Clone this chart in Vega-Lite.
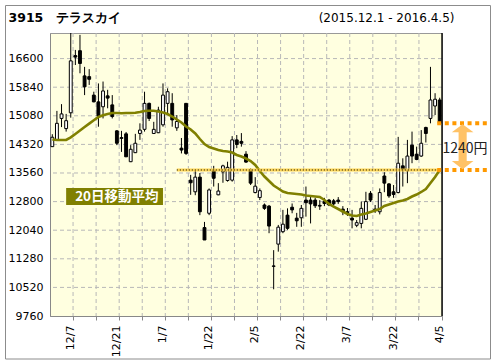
{
  "$schema": "https://vega.github.io/schema/vega-lite/v6.json",
  "width": 392,
  "height": 283,
  "autosize": "none",
  "padding": {"left": 50, "top": 33, "right": 54, "bottom": 48},
  "background": "white",
  "config": {
    "view": {"fill": "#FFFFE0", "stroke": "#999999", "strokeWidth": 1},
    "font": "DejaVu Sans"
  },
  "datasets": {
    "ohlc": [
      {"d": "12/1", "o": 14260, "h": 14590, "l": 14250, "c": 14510, "ma": 14450},
      {"d": "12/2", "o": 14440, "h": 15210, "l": 14420, "c": 14880, "ma": 14436},
      {"d": "12/3", "o": 15010, "h": 15390, "l": 14780, "c": 15130, "ma": 14436},
      {"d": "12/4", "o": 14740, "h": 15130, "l": 14660, "c": 14950, "ma": 14440},
      {"d": "12/7", "o": 15160, "h": 17280, "l": 15030, "c": 16540, "ma": 14508},
      {"d": "12/8", "o": 16680, "h": 16830, "l": 16430, "c": 16640, "ma": 14598},
      {"d": "12/9", "o": 16810, "h": 17230, "l": 16210, "c": 16470, "ma": 14689},
      {"d": "12/10", "o": 16140, "h": 16380, "l": 15630, "c": 15850, "ma": 14782},
      {"d": "12/11", "o": 16120, "h": 16320, "l": 15900, "c": 16050, "ma": 14872},
      {"d": "12/14", "o": 15630, "h": 15720, "l": 15440, "c": 15450, "ma": 14962},
      {"d": "12/15", "o": 15450, "h": 15940, "l": 14790, "c": 15070, "ma": 15047},
      {"d": "12/16", "o": 15320, "h": 15990, "l": 15010, "c": 15740, "ma": 15093},
      {"d": "12/17", "o": 15610, "h": 15770, "l": 15280, "c": 15550, "ma": 15127},
      {"d": "12/18", "o": 15370, "h": 15630, "l": 15010, "c": 15060, "ma": 15154},
      {"d": "12/21", "o": 14680, "h": 14700, "l": 14300, "c": 14350, "ma": 15154},
      {"d": "12/22", "o": 14500, "h": 14680, "l": 14120, "c": 14480, "ma": 15148},
      {"d": "12/24", "o": 14600, "h": 14650, "l": 13990, "c": 13990, "ma": 15154},
      {"d": "12/25", "o": 13860, "h": 14300, "l": 13850, "c": 14190, "ma": 15154},
      {"d": "12/28", "o": 14100, "h": 14600, "l": 14090, "c": 14350, "ma": 15159},
      {"d": "12/29", "o": 14610, "h": 14880, "l": 14440, "c": 14700, "ma": 15180},
      {"d": "12/30", "o": 14720, "h": 15720, "l": 14660, "c": 15410, "ma": 15207},
      {"d": "1/4", "o": 15410, "h": 15430, "l": 14940, "c": 15010, "ma": 15215},
      {"d": "1/5", "o": 14610, "h": 14920, "l": 14600, "c": 14720, "ma": 15215},
      {"d": "1/6", "o": 14630, "h": 15320, "l": 14620, "c": 15230, "ma": 15194},
      {"d": "1/7", "o": 14840, "h": 15940, "l": 14790, "c": 15630, "ma": 15167},
      {"d": "1/8", "o": 15410, "h": 15810, "l": 15100, "c": 15720, "ma": 15127},
      {"d": "1/12", "o": 15410, "h": 15680, "l": 14790, "c": 14970, "ma": 15061},
      {"d": "1/13", "o": 14760, "h": 15100, "l": 14680, "c": 14930, "ma": 14981},
      {"d": "1/14", "o": 14220, "h": 14490, "l": 14080, "c": 14170, "ma": 14901},
      {"d": "1/15", "o": 15410, "h": 15420, "l": 14040, "c": 14080, "ma": 14795},
      {"d": "1/18", "o": 13370, "h": 13510, "l": 12980, "c": 13300, "ma": 14715},
      {"d": "1/19", "o": 13060, "h": 13640, "l": 12970, "c": 13450, "ma": 14609},
      {"d": "1/20", "o": 13450, "h": 13560, "l": 12440, "c": 12530, "ma": 14463},
      {"d": "1/21", "o": 12110, "h": 12260, "l": 11780, "c": 11780, "ma": 14330},
      {"d": "1/22", "o": 12490, "h": 13150, "l": 12440, "c": 13110, "ma": 14250},
      {"d": "1/25", "o": 13640, "h": 13750, "l": 13200, "c": 13420, "ma": 14210},
      {"d": "1/26", "o": 12980, "h": 13290, "l": 12970, "c": 13080, "ma": 14171},
      {"d": "1/27", "o": 13590, "h": 13780, "l": 13300, "c": 13750, "ma": 14144},
      {"d": "1/28", "o": 13360, "h": 13860, "l": 13330, "c": 13710, "ma": 14131},
      {"d": "1/29", "o": 13370, "h": 14540, "l": 13330, "c": 14440, "ma": 14104},
      {"d": "2/1", "o": 14440, "h": 14570, "l": 14220, "c": 14320, "ma": 14038},
      {"d": "2/2", "o": 14400, "h": 14620, "l": 14260, "c": 14350, "ma": 13998},
      {"d": "2/3", "o": 14060, "h": 14140, "l": 13830, "c": 13850, "ma": 13945},
      {"d": "2/4", "o": 13640, "h": 13680, "l": 13240, "c": 13290, "ma": 13878},
      {"d": "2/5", "o": 13040, "h": 13450, "l": 13020, "c": 13210, "ma": 13772},
      {"d": "2/8", "o": 12910, "h": 13150, "l": 12840, "c": 13090, "ma": 13613},
      {"d": "2/9", "o": 12710, "h": 12750, "l": 12580, "c": 12620, "ma": 13467},
      {"d": "2/10", "o": 12680, "h": 12710, "l": 11960, "c": 12150, "ma": 13347},
      {"d": "2/12", "o": 11090, "h": 11510, "l": 10470, "c": 11080, "ma": 13227},
      {"d": "2/15", "o": 11670, "h": 12180, "l": 11470, "c": 12120, "ma": 13148},
      {"d": "2/16", "o": 12000, "h": 12580, "l": 11960, "c": 12200, "ma": 13068},
      {"d": "2/17", "o": 12440, "h": 12620, "l": 12050, "c": 12090, "ma": 13028},
      {"d": "2/18", "o": 12650, "h": 12750, "l": 12490, "c": 12580, "ma": 13015},
      {"d": "2/19", "o": 12360, "h": 12500, "l": 12130, "c": 12290, "ma": 13002},
      {"d": "2/22", "o": 12370, "h": 12710, "l": 12130, "c": 12620, "ma": 12988},
      {"d": "2/23", "o": 12840, "h": 13200, "l": 12400, "c": 12770, "ma": 12962},
      {"d": "2/24", "o": 12840, "h": 12930, "l": 12220, "c": 12740, "ma": 12948},
      {"d": "2/25", "o": 12840, "h": 12900, "l": 12630, "c": 12690, "ma": 12935},
      {"d": "2/26", "o": 12700, "h": 12840, "l": 12580, "c": 12680, "ma": 12922},
      {"d": "2/29", "o": 12800, "h": 12900, "l": 12680, "c": 12750, "ma": 12842},
      {"d": "3/1", "o": 12840, "h": 12870, "l": 12680, "c": 12710, "ma": 12736},
      {"d": "3/2", "o": 12820, "h": 12870, "l": 12700, "c": 12740, "ma": 12669},
      {"d": "3/3", "o": 12840, "h": 12920, "l": 12740, "c": 12800, "ma": 12603},
      {"d": "3/4", "o": 12600, "h": 12680, "l": 12440, "c": 12530, "ma": 12537},
      {"d": "3/7", "o": 12530, "h": 12630, "l": 12420, "c": 12510, "ma": 12470},
      {"d": "3/8", "o": 12360, "h": 12580, "l": 12090, "c": 12310, "ma": 12430},
      {"d": "3/9", "o": 12170, "h": 12310, "l": 12120, "c": 12240, "ma": 12417},
      {"d": "3/10", "o": 12220, "h": 12800, "l": 12090, "c": 12620, "ma": 12457},
      {"d": "3/11", "o": 12330, "h": 13060, "l": 12310, "c": 12800, "ma": 12483},
      {"d": "3/14", "o": 13020, "h": 13080, "l": 12790, "c": 12840, "ma": 12523},
      {"d": "3/15", "o": 12600, "h": 12710, "l": 12500, "c": 12580, "ma": 12563},
      {"d": "3/16", "o": 12530, "h": 13150, "l": 12460, "c": 13040, "ma": 12603},
      {"d": "3/17", "o": 13480, "h": 13580, "l": 13050, "c": 13290, "ma": 12683},
      {"d": "3/18", "o": 13270, "h": 13290, "l": 12900, "c": 12950, "ma": 12723},
      {"d": "3/22", "o": 13060, "h": 13240, "l": 12900, "c": 12990, "ma": 12762},
      {"d": "3/23", "o": 13040, "h": 14520, "l": 13020, "c": 13820, "ma": 12802},
      {"d": "3/24", "o": 13750, "h": 13950, "l": 13200, "c": 13640, "ma": 12829},
      {"d": "3/25", "o": 13620, "h": 14440, "l": 13290, "c": 14010, "ma": 12869},
      {"d": "3/28", "o": 14300, "h": 14660, "l": 13820, "c": 14010, "ma": 12935},
      {"d": "3/29", "o": 14060, "h": 14260, "l": 13900, "c": 13920, "ma": 12988},
      {"d": "3/30", "o": 14010, "h": 14700, "l": 13990, "c": 14350, "ma": 13055},
      {"d": "3/31", "o": 14770, "h": 14790, "l": 14370, "c": 14610, "ma": 13134},
      {"d": "4/1", "o": 15010, "h": 16380, "l": 14880, "c": 15500, "ma": 13294},
      {"d": "4/4", "o": 15340, "h": 15680, "l": 15100, "c": 15520, "ma": 13453},
      {"d": "4/5", "o": 15500, "h": 15560, "l": 14860, "c": 14880, "ma": 13640}
    ],
    "gap": [{"close": 14880, "ma": 13640, "label": "1240円"}],
    "gridY": [{"gy": 10520}, {"gy": 11280}, {"gy": 12040}, {"gy": 12800}, {"gy": 13560}, {"gy": 14320}, {"gy": 15080}, {"gy": 15840}, {"gy": 16600}],
    "gridX": [{"gx": "12/7"}, {"gx": "12/14"}, {"gx": "12/21"}, {"gx": "12/29"}, {"gx": "1/7"}, {"gx": "1/15"}, {"gx": "1/22"}, {"gx": "1/29"}, {"gx": "2/5"}, {"gx": "2/15"}, {"gx": "2/22"}, {"gx": "2/29"}, {"gx": "3/7"}, {"gx": "3/14"}, {"gx": "3/22"}, {"gx": "3/29"}]
  },
  "layer": [
    {
      "data": {"name": "ohlc"},
      "encoding": {
        "x": {
          "field": "d",
          "type": "ordinal",
          "scale": {
            "type": "band",
            "paddingInner": 0,
            "paddingOuter": 0,
            "domain": ["12/1","12/2","12/3","12/4","12/7","12/8","12/9","12/10","12/11","12/14","12/15","12/16","12/17","12/18","12/21","12/22","12/24","12/25","12/28","12/29","12/30","1/4","1/5","1/6","1/7","1/8","1/12","1/13","1/14","1/15","1/18","1/19","1/20","1/21","1/22","1/25","1/26","1/27","1/28","1/29","2/1","2/2","2/3","2/4","2/5","2/8","2/9","2/10","2/12","2/15","2/16","2/17","2/18","2/19","2/22","2/23","2/24","2/25","2/26","2/29","3/1","3/2","3/3","3/4","3/7","3/8","3/9","3/10","3/11","3/14","3/15","3/16","3/17","3/18","3/22","3/23","3/24","3/25","3/28","3/29","3/30","3/31","4/1","4/4","4/5"]
          },
          "axis": {
            "orient": "bottom",
            "title": null,
            "values": ["12/7","12/14","12/21","12/29","1/7","1/15","1/22","1/29","2/5","2/15","2/22","2/29","3/7","3/14","3/22","3/29","4/5"],
            "bandPosition": 1,
            "labelExpr": "indexof(['12/7','12/21','1/7','1/22','2/5','2/22','3/7','3/22','4/5'], datum.value) >= 0 ? datum.value : ''",
            "labelAngle": 270,
            "labelAlign": "right",
            "labelBaseline": "middle",
            "labelFont": "DejaVu Sans",
            "labelFontSize": 11,
            "labelColor": "#000000",
            "labelPadding": 5,
            "labelOverlap": false,
            "tickSize": 4,
            "tickColor": "#888888",
            "domainColor": "#888888",
            "grid": false
          }
        },
        "y": {
          "field": "l",
          "type": "quantitative",
          "scale": {"domain": [9760, 17280], "nice": false, "zero": false},
          "axis": {
            "values": [9760, 10520, 11280, 12040, 12800, 13560, 14320, 15080, 15840, 16600],
            "format": "d",
            "ticks": false,
            "labelPadding": 7,
            "labelFont": "DejaVu Sans",
            "labelFontSize": 11,
            "labelColor": "#000000",
            "domainColor": "#888888",
            "grid": false,
            "title": "3915　テラスカイ",
            "titleAngle": 0,
            "titleAlign": "left",
            "titleBaseline": "alphabetic",
            "titleX": -42,
            "titleY": -12,
            "titleFont": "DejaVu Sans",
            "titleFontSize": 12.5,
            "titleFontWeight": "bold",
            "titleColor": "#000000"
          }
        }
      },
      "layer": [
        {
          "data": {"name": "gridY"},
          "mark": {"type": "rule", "color": "#b8b8b8", "strokeWidth": 1, "strokeDash": [4, 3]},
          "encoding": {
            "x": null,
            "y": {"field": "gy", "type": "quantitative", "title": "3915　テラスカイ"}
          }
        },
        {
          "data": {"name": "gridX"},
          "mark": {"type": "rule", "color": "#b8b8b8", "strokeWidth": 1, "strokeDash": [4, 3]},
          "encoding": {
            "x": {"field": "gx", "type": "ordinal", "bandPosition": 1},
            "y": null
          }
        },
        {
          "mark": {"type": "rule", "color": "#000000", "strokeWidth": 1},
          "encoding": {"y2": {"field": "h"}}
        },
        {
          "mark": {"type": "bar", "width": {"band": 0.62}, "stroke": "#000000", "strokeWidth": 1},
          "encoding": {
            "y": {"field": "o", "type": "quantitative", "title": "3915　テラスカイ"},
            "y2": {"field": "c"},
            "fill": {"condition": {"test": "datum.c >= datum.o", "value": "#ffffff"}, "value": "#000000"}
          }
        },
        {
          "mark": {"type": "line", "color": "#808000", "strokeWidth": 2.6},
          "encoding": {"y": {"field": "ma", "type": "quantitative", "title": "3915　テラスカイ"}}
        },
        {
          "data": {"values": [{"v": 13640}]},
          "mark": {"type": "rule", "color": "#FFD040", "strokeWidth": 3, "opacity": 0.85},
          "encoding": {
            "x": {"datum": "1/13"},
            "x2": {"datum": "4/5"},
            "y": {"field": "v", "type": "quantitative", "title": "3915　テラスカイ"}
          }
        },
        {
          "data": {"values": [{"v": 13640}]},
          "mark": {"type": "rule", "color": "#000000", "strokeWidth": 1, "strokeDash": [1, 2]},
          "encoding": {
            "x": {"datum": "1/13"},
            "x2": {"datum": "4/5"},
            "y": {"field": "v", "type": "quantitative", "title": "3915　テラスカイ"}
          }
        },
        {
          "data": {"values": [{"lo": 9760, "hi": 17280}]},
          "mark": {"type": "rule", "color": "#000000", "strokeWidth": 1.4},
          "encoding": {
            "x": {"datum": "4/5", "bandPosition": 1},
            "y": {"field": "lo", "type": "quantitative", "title": "3915　テラスカイ"},
            "y2": {"field": "hi"}
          }
        },
        {
          "data": {"values": [{"name": "20日移動平均", "lo": 12710, "hi": 13160}]},
          "mark": {"type": "rect", "color": "#808000"},
          "encoding": {
            "x": {"datum": "12/4"},
            "x2": {"datum": "1/7"},
            "y": {"field": "lo", "type": "quantitative", "title": "3915　テラスカイ"},
            "y2": {"field": "hi"}
          }
        },
        {
          "data": {"values": [{"name": "20日移動平均", "mid": 12935}]},
          "mark": {"type": "text", "color": "#ffffff", "font": "Noto Sans CJK JP", "fontSize": 13.5, "fontWeight": "bold", "align": "center", "baseline": "middle"},
          "encoding": {
            "x": {"datum": "12/21"},
            "y": {"field": "mid", "type": "quantitative", "title": "3915　テラスカイ"},
            "text": {"field": "name"}
          }
        }
      ]
    },
    {
      "data": {"name": "gap"},
      "layer": [
        {
          "transform": [{"fold": ["close", "ma"], "as": ["k", "v"]}],
          "mark": {"type": "rule", "color": "#FF9900", "strokeWidth": 4, "strokeDash": [4, 3.6]},
          "encoding": {
            "x": {"datum": -0.1, "type": "quantitative", "scale": {"domain": [0, 1], "range": [392, 440], "zero": false, "nice": false}, "axis": null},
            "x2": {"datum": 1},
            "y": {"field": "v", "type": "quantitative", "scale": {"domain": [9760, 17280], "nice": false, "zero": false}, "axis": null}
          }
        },
        {
          "transform": [{"calculate": "(datum.close + datum.ma) / 2", "as": "mid"}],
          "mark": {"type": "point", "shape": "M0,-1L0.48,-0.64L0.18,-0.64L0.18,0.64L0.48,0.64L0,1L-0.48,0.64L-0.18,0.64L-0.18,-0.64L-0.48,-0.64Z", "size": 2025, "filled": true, "color": "#FFC266", "opacity": 1},
          "encoding": {
            "x": {"datum": 0.43, "type": "quantitative"},
            "y": {"field": "mid", "type": "quantitative"}
          }
        },
        {
          "transform": [{"calculate": "(datum.close + datum.ma) / 2", "as": "mid"}],
          "mark": {"type": "text", "font": "Noto Sans CJK JP", "fontSize": 14, "color": "#222222", "align": "center", "baseline": "middle", "dy": 2},
          "encoding": {
            "x": {"datum": 0.48, "type": "quantitative"},
            "y": {"field": "mid", "type": "quantitative"},
            "text": {"field": "label"}
          }
        }
      ]
    },
    {
      "data": {"values": [{"t": "(2015.12.1 - 2016.4.5)"}]},
      "mark": {"type": "rect", "fill": "transparent", "stroke": "#8c8c8c", "strokeWidth": 1},
      "encoding": {
        "x": {
          "datum": 0,
          "type": "quantitative",
          "scale": {"domain": [0, 1], "range": [-44.5, 440.5], "zero": false, "nice": false},
          "axis": {
            "orient": "top",
            "ticks": false,
            "labels": false,
            "domain": false,
            "grid": false,
            "title": "(2015.12.1 - 2016.4.5)",
            "titleX": 404,
            "titleY": -12,
            "titleAlign": "right",
            "titleBaseline": "alphabetic",
            "titleFont": "DejaVu Sans",
            "titleFontSize": 12,
            "titleFontWeight": "normal",
            "titleColor": "#000000"
          }
        },
        "x2": {"datum": 1},
        "y": {"datum": 0, "type": "quantitative", "scale": {"domain": [0, 1], "range": [326, -27.5], "zero": false, "nice": false}, "axis": null},
        "y2": {"datum": 1}
      }
    }
  ],
  "resolve": {"scale": {"x": "independent", "y": "independent"}}
}
